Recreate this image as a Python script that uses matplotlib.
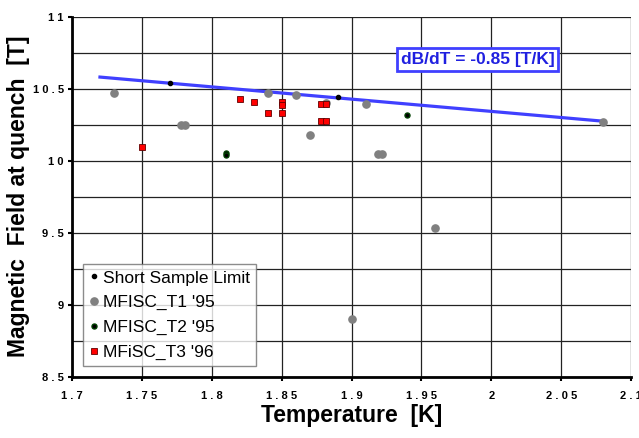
import numpy as np
import matplotlib
matplotlib.use('Agg')
import matplotlib.pyplot as plt
from matplotlib.ticker import MultipleLocator

plt.rcParams['font.family'] = ['Liberation Sans', 'DejaVu Sans']

# data
ssl_T	= [1.77, 1.89]
ssl_B	= [10.54, 10.445]
t1_T	= [1.73, 1.778, 1.781, 1.84, 1.86, 1.87, 1.882, 1.91, 1.919, 1.922, 1.96, 1.90, 2.08]
t1_B	= [10.47, 10.25, 10.25, 10.47, 10.455, 10.175, 10.40, 10.395, 10.045, 10.045, 9.53, 8.90, 10.265]
t2_T	= [1.81, 1.81, 1.94]
t2_B	= [10.055, 10.04, 10.314]
t3_T	= [1.75, 1.82, 1.83, 1.84, 1.85, 1.85, 1.85, 1.878, 1.882, 1.878, 1.882]
t3_B	= [10.095, 10.425, 10.405, 10.33, 10.41, 10.385, 10.33, 10.39, 10.39, 10.275, 10.275]
fit_T	= [1.72, 2.08]
slope	= -0.85
fit_B0	= 10.58
xtick_vals	= [1.7, 1.75, 1.8, 1.85, 1.9, 1.95, 2.0, 2.05, 2.1]
xtick_labs	= ['1.7', '1.75', '1.8', '1.85', '1.9', '1.95', '2', '2.05', '2.1']
ytick_vals	= [8.5, 9, 9.5, 10, 10.5, 11]
ytick_labs	= ['8.5', '9', '9.5', '10', '10.5', '11']

def spaced(s): return ' '.join(list(s))

fig = plt.figure(figsize=(6.39, 4.38), dpi=100)
ax = fig.add_axes([0.1127, 0.1393, 0.875, 0.8230])

ax.plot(fit_T, [fit_B0, fit_B0 + slope*(fit_T[1]-fit_T[0])], color='#4040ff', lw=2.3, zorder=2)
ax.plot(t1_T, t1_B, 'o', color='#808080', ms=5.2, mec='#808080', ls='none', label="MFISC_T1 '95", zorder=3)
ax.plot(t3_T, t3_B, 's', color='#ff0000', mec='#600000', mew=0.6, ms=4.6, ls='none', label="MFiSC_T3 '96", zorder=4)
ax.plot(t2_T, t2_B, 'o', color='black', mec='#004000', ms=3.6, ls='none', label="MFISC_T2 '95", zorder=5)
ax.plot(ssl_T, ssl_B, 'o', color='black', ms=3.0, ls='none', label='Short Sample Limit', zorder=5)

ax.set_xlim(1.7, 2.1)
ax.set_ylim(8.5, 11)
ax.yaxis.set_minor_locator(MultipleLocator(0.25))
ax.set_xticks(xtick_vals)
ax.set_xticklabels([spaced(s) for s in xtick_labs], fontweight='bold')
ax.set_yticks(ytick_vals)
ax.set_yticklabels([spaced(s) for s in ytick_labs], fontweight='bold')
ax.grid(True, which='both', color='#222222', lw=0.9)
ax.set_axisbelow(True)
ax.tick_params(which='minor', length=0)
ax.tick_params(which='major', direction='out', length=3, width=1.5, labelsize=8)
ax.tick_params(axis='x', pad=7)
ax.tick_params(axis='y', pad=3)

for s in ['left', 'bottom']: ax.spines[s].set_linewidth(2)
for s in ['top', 'right']: ax.spines[s].set_visible(False)

ax.set_xlabel('Temperature  [K]', fontsize=16.5, fontweight='bold', labelpad=2)
ax.set_ylabel('Magnetic  Field at quench  [T]', fontsize=16.5, fontweight='bold', labelpad=2)

ax.text(1.990, 10.70, 'dB/dT = -0.85 [T/K]', color='#2020e0', fontsize=12.5, fontweight='bold',
	ha='center', va='center', bbox=dict(boxstyle='square,pad=0.22', fc='white', ec='#4040ff', lw=2), zorder=6)

h, l = ax.get_legend_handles_labels()
order = [3, 0, 2, 1]
leg = ax.legend([h[i] for i in order], [l[i] for i in order], loc='lower left', bbox_to_anchor=(0.02, 0.03),
	fontsize=12.5, frameon=True, fancybox=False, edgecolor='#707070', handlelength=0.5, handletextpad=0.3,
	borderpad=0.35, labelspacing=0.55, borderaxespad=0)
leg.get_frame().set_linewidth(1)

plt.savefig('out.png', dpi=100)
